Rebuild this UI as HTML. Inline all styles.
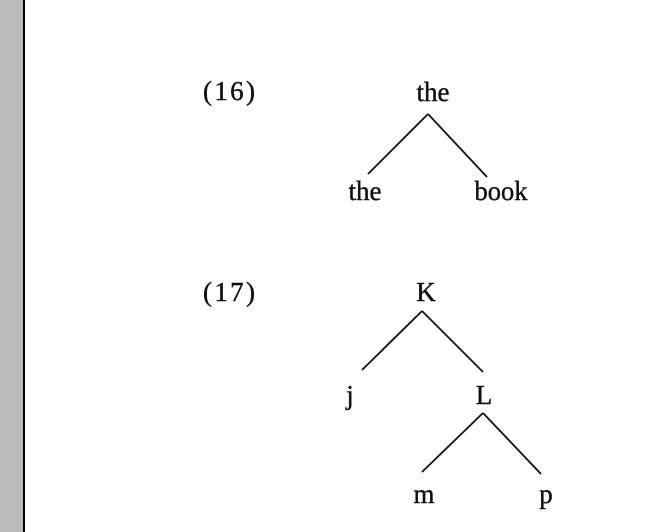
<!DOCTYPE html>
<html><head><style>
body{margin:0;width:645px;height:532px;background:#fff;overflow:hidden;position:relative;}
#bar{position:absolute;left:0;top:0;width:23px;height:532px;background:#bbbbbb;border-right:2px solid #000;}
svg{position:absolute;left:0;top:0;}
text{font-family:"Liberation Serif",serif;font-size:27px;fill:#111;stroke:#111;stroke-width:0.4;}
</style></head><body>
<div id="bar"></div>
<svg width="645" height="532">
<g stroke="#111" stroke-width="1.8" fill="none">
<line x1="428" y1="114" x2="368" y2="174"/>
<line x1="428" y1="114" x2="487" y2="177"/>
<line x1="422" y1="311" x2="362" y2="370"/>
<line x1="422" y1="311" x2="483" y2="372"/>
<line x1="483" y1="413" x2="422" y2="472"/>
<line x1="483" y1="413" x2="541" y2="474"/>
</g>
<text x="203" y="100" textLength="52" lengthAdjust="spacing">(16)</text>
<text x="433" y="101" text-anchor="middle" textLength="33" lengthAdjust="spacingAndGlyphs">the</text>
<text x="365" y="200" text-anchor="middle" textLength="33" lengthAdjust="spacingAndGlyphs">the</text>
<text x="501" y="200" text-anchor="middle" textLength="53" lengthAdjust="spacingAndGlyphs">book</text>
<text x="203" y="301" textLength="52" lengthAdjust="spacing">(17)</text>
<text x="426" y="301" text-anchor="middle">K</text>
<text x="350" y="404" text-anchor="middle">j</text>
<text x="484" y="404" text-anchor="middle">L</text>
<text x="424" y="503" text-anchor="middle">m</text>
<text x="546" y="503" text-anchor="middle">p</text>
</svg>
</body></html>
